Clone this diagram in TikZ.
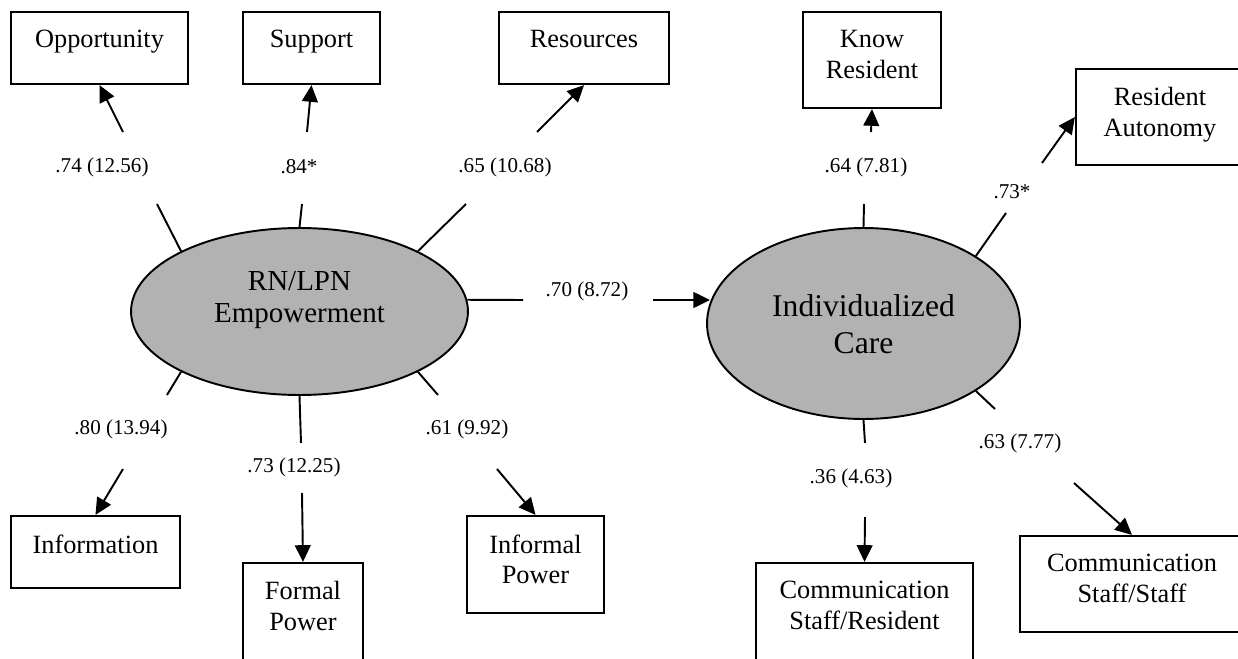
\documentclass[tikz,border=0pt]{standalone}
\usepackage{fontspec}
\setmainfont{Liberation Serif}
\usetikzlibrary{shapes.geometric,arrows.meta}

\newcommand{\indfont}{\fontsize{15}{17.6}\selectfont}
\newcommand{\empfont}{\fontsize{16.5}{18.7}\selectfont}
\newcommand{\carefont}{\fontsize{18}{21}\selectfont}
\newcommand{\coeffont}{\fontsize{12}{14}\selectfont}
% box text: [top gap]{width}{height}{lines}
\newcommand{\intext}[4][0.37cm]{\parbox[c][#3][t]{#2}{\centering\vspace*{#1}#4}}

\begin{document}
\begin{tikzpicture}[x=0.02cm, y=-0.02cm, line width=1.1pt,
        latent/.style={ellipse, draw, fill=black!30, inner sep=0pt},
        indic/.style={draw, line width=1.3pt, inner sep=0pt, font=\indfont},
        coef/.style={font=\coeffont, inner sep=1pt},
        arr/.style={-{Triangle[length=9.5pt,width=9pt]}}]
    \useasboundingbox (0,0) rectangle (1238,659);
    \clip (0,0) rectangle (1238,659);

    % latent variables
    \node[latent, minimum width=6.74cm, minimum height=3.34cm, font=\empfont]
        (emp) at (299.5,311.5) {\intext[0.29cm]{4cm}{2.2cm}{RN/LPN\\Empowerment}\hspace{0.48cm}};
    \node[latent, minimum width=6.26cm, minimum height=3.82cm, font=\carefont]
        (care) at (863.5,323.5) {\intext[0.63cm]{4cm}{2.4cm}{Individualized\\Care}\hspace{0.28cm}};

    % indicators
    \node[indic] (opp) at (99.5,48) {\intext{3.54cm}{1.44cm}{Opportunity}};
    \node[indic] (sup) at (311.5,48) {\intext{2.74cm}{1.44cm}{Support}};
    \node[indic] (res) at (584,48) {\intext{3.4cm}{1.44cm}{Resources}};
    \node[indic] (info) at (95.5,552) {\intext{3.38cm}{1.44cm}{Information}};
    \node[indic] (formal) at (303,613) {\intext{2.4cm}{2cm}{Formal\\Power}};
    \node[indic] (informal) at (535.5,564.5) {\intext{2.74cm}{1.94cm}{Informal\\Power}};
    \node[indic] (know) at (872,60) {\intext{2.76cm}{1.92cm}{Know\\Resident}};
    \node[indic] (auto) at (1160,117) {\intext{3.36cm}{1.92cm}{Resident\\Autonomy}};
    \node[indic] (csr) at (864.5,613) {\intext{4.34cm}{2cm}{Communication\\Staff/Resident}};
    \node[indic] (css) at (1132,584) {\intext{4.48cm}{1.92cm}{Communication\\Staff/Staff}};

    % loadings, empowerment
    \coordinate (opp1) at (157,204);  \coordinate (opp2) at (123,132);
    \draw (emp.153) -- (opp1);
    \draw[arr] (opp2) -- (opp.south);
    \node[coef] (lopp) at (102,167) {.74 (12.56)};

    \coordinate (sup1) at (302,204);  \coordinate (sup2) at (307,132);
    \draw (emp.90) -- (sup1);
    \draw[arr] (sup2) -- (sup.south);
    \node[coef] (lsup) at (299,167) {.84*};

    \coordinate (res1) at (466,204);  \coordinate (res2) at (537,132);
    \draw (emp.27) -- (res1);
    \draw[arr] (res2) -- (res.south);
    \node[coef] (lres) at (505,167) {.65 (10.68)};

    \coordinate (info1) at (167,395);  \coordinate (info2) at (123,469);
    \draw (emp.207) -- (info1);
    \draw[arr] (info2) -- (info.north);
    \node[coef] (linfo) at (121,429) {.80 (13.94)};

    \coordinate (formal1) at (301,443);  \coordinate (formal2) at (302,493);
    \draw (emp.270) -- (formal1);
    \draw[arr] (formal2) -- (formal.north);
    \node[coef] (lformal) at (294,467) {.73 (12.25)};

    \coordinate (informal1) at (438,395);  \coordinate (informal2) at (497,469);
    \draw (emp.333) -- (informal1);
    \draw[arr] (informal2) -- (informal.north);
    \node[coef] (linformal) at (467,429) {.61 (9.92)};

    % path
    \coordinate (path1) at (523,300);  \coordinate (path2) at (653,300);
    \draw (emp.4) -- (path1);
    \draw[arr] (path2) -- (path2 -| care.172);
    \node[coef] (lpath) at (587,291) {.70 (8.72)};

    % loadings, individualized care
    \coordinate (know1) at (864,204);  \coordinate (know2) at (871,132);
    \draw (care.90) -- (know1);
    \draw[arr] (know2) -- (know.south);
    \node[coef] (lknow) at (866,167) {.64 (7.81)};

    \coordinate (auto1) at (1006,213);  \coordinate (auto2) at (1042,163);
    \draw (care.31) -- (auto1);
    \draw[arr] (auto2) -- (auto.west);
    \node[coef] (lauto) at (1012,192) {.73*};

    \coordinate (csr1) at (865,443);  \coordinate (csr2) at (865,517);
    \draw (care.270) -- (csr1);
    \draw[arr] (csr2) -- (csr.north);
    \node[coef] (lcsr) at (851,478) {.36 (4.63)};

    \coordinate (css1) at (995,409);  \coordinate (css2) at (1074,483);
    \draw (care.329) -- (css1);
    \draw[arr] (css2) -- (css.north);
    \node[coef] (lcss) at (1020,443) {.63 (7.77)};
\end{tikzpicture}
\end{document}
